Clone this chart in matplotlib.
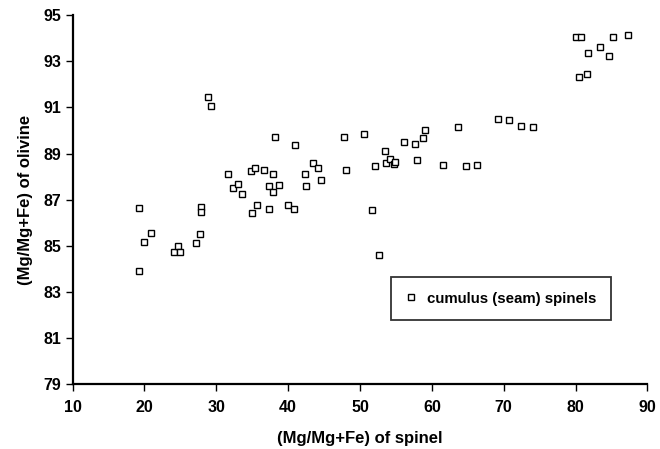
import matplotlib
matplotlib.use("Agg")
import matplotlib.pyplot as plt

plt.rcParams['font.family'] = ['Liberation Sans', 'DejaVu Sans']

spinel_mg = [
    28.8, 29.2, 31.6, 34.8, 35.4, 36.7, 37.9, 38.1, 41.0, 42.4,
    43.5, 44.2, 47.8, 48.0, 50.6, 52.1, 53.5, 53.6, 54.2, 54.7,
    54.9, 56.1, 57.6, 57.9, 58.7, 59.1, 61.5, 63.6, 64.7, 66.3,
    69.2, 70.7, 72.4, 74.1, 80.0, 80.8, 85.2, 87.3, 81.7, 83.4,
    84.6, 80.5, 81.6, 19.2, 19.2, 20.0, 20.9, 24.1, 24.7, 25.0,
    27.2, 27.7, 27.9, 27.9, 32.3, 33.0, 33.6, 35.0, 35.7, 37.4,
    38.7, 37.9, 37.3, 40.0, 40.8, 42.5, 44.6, 51.6, 52.7,
]
olivine_mg = [
    91.46, 91.04, 88.10, 88.24, 88.38, 88.27, 88.11, 89.70, 89.38, 88.10,
    88.58, 88.38, 89.73, 88.27, 89.84, 88.44, 89.11, 88.60, 88.76, 88.55,
    88.63, 89.51, 89.41, 88.72, 89.68, 90.03, 88.50, 90.16, 88.47, 88.50,
    90.49, 90.45, 90.20, 90.15, 94.06, 94.06, 94.03, 94.15, 93.34, 93.61,
    93.22, 92.33, 92.44, 86.65, 83.91, 85.15, 85.54, 84.72, 84.98, 84.72,
    85.12, 85.50, 86.67, 86.45, 87.49, 87.67, 87.26, 86.44, 86.78, 87.60,
    87.64, 87.33, 86.61, 86.78, 86.60, 87.58, 87.85, 86.55, 84.62,
]

x_ticks = [10, 20, 30, 40, 50, 60, 70, 80, 90]
y_ticks = [79, 81, 83, 85, 87, 89, 91, 93, 95]
series_label = "cumulus (seam) spinels"

fig = plt.figure(figsize=(6.6, 4.49), dpi=100)
ax = fig.add_axes([0.110, 0.144, 0.871, 0.8225])

ax.plot(spinel_mg, olivine_mg, linestyle='none', marker='s', markersize=4.6,
        markerfacecolor='white', markeredgecolor='black', markeredgewidth=1.0,
        label=series_label)

ax.set_xlim(10, 90)
ax.set_ylim(79, 95)
ax.set_xticks(x_ticks)
ax.set_yticks(y_ticks)
ax.spines['top'].set_visible(False)
ax.spines['right'].set_visible(False)
for s in ('left', 'bottom'):
    ax.spines[s].set_linewidth(1.6)
ax.tick_params(axis='both', direction='out', length=5, width=1.0,
               labelsize=11.5, pad=3)
ax.tick_params(axis='x', pad=6)
for lab in ax.get_xticklabels() + ax.get_yticklabels():
    lab.set_fontweight('bold')

ax.set_xlabel("(Mg/Mg+Fe) of spinel", fontsize=12, fontweight='bold', labelpad=12)
ax.set_ylabel("(Mg/Mg+Fe) of olivine", fontsize=12, fontweight='bold', labelpad=8)

leg = ax.legend(loc='center', bbox_to_anchor=(0.745, 0.232), frameon=True,
                fancybox=False, edgecolor='black', borderpad=0.95,
                borderaxespad=0, handlelength=0.8, handletextpad=0.7,
                prop={'weight': 'bold', 'size': 10.8})
leg.get_frame().set_linewidth(1.3)

fig.savefig("out.png", dpi=100)
